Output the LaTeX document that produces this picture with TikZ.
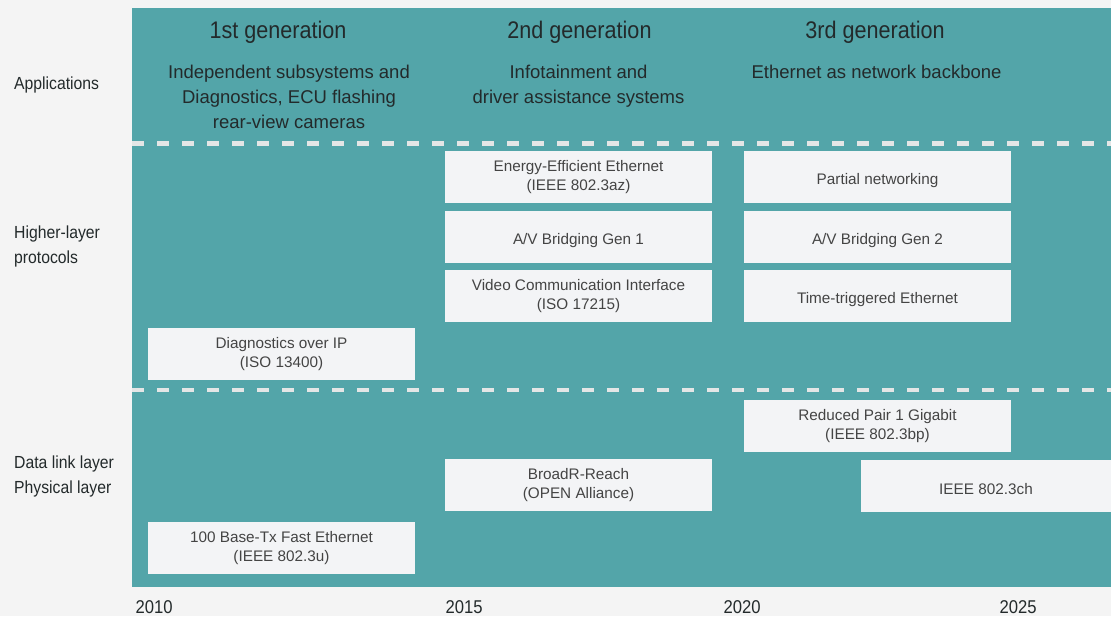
\documentclass[tikz,border=0pt]{standalone}
\usepackage{fontspec}
\setmainfont{Liberation Sans}
\newfontfamily\condfont[FakeStretch=0.9]{Liberation Sans}

\definecolor{pagebg}{HTML}{F4F4F4}
\definecolor{panel}{HTML}{53A5A9}
\definecolor{boxfill}{HTML}{F3F4F6}
\definecolor{boxtext}{HTML}{444444}
\definecolor{headtext}{HTML}{232A2B}
\definecolor{divider}{HTML}{E4E6E6}

\tikzset{
  stdbox/.style={fill=boxfill, minimum width=267pt, minimum height=52pt,
    inner sep=0pt, align=center, text=boxtext,
    font=\fontsize{15.3}{19.5}\selectfont,
    execute at begin node={\rule{0pt}{18pt}}},
  genhead/.style={inner sep=0pt, text=headtext,
    font=\condfont\fontsize{24}{28}\selectfont},
  apptext/.style={inner sep=0pt, align=center, text=headtext,
    font=\fontsize{18.5}{25}\selectfont},
  layerlabel/.style={inner sep=0pt, anchor=west, align=left, text=headtext,
    font=\condfont\fontsize{17.5}{25}\selectfont},
  yearlabel/.style={inner sep=0pt, anchor=west, text=headtext,
    font=\condfont\fontsize{18.5}{22}\selectfont},
  divline/.style={draw=divider, line width=4.7pt, dash pattern=on 12pt off 13pt},
}

\begin{document}
\begin{tikzpicture}[x=1pt,y=-1pt]
  \useasboundingbox (0,0) rectangle (1111,616);
  % page and timeline panel
  \fill[pagebg] (0,0) rectangle (1111,616);
  \fill[panel] (132,8) rectangle (1111,587);

  % layer separators
  \draw[divline] (132,143.5) -- (1111,143.5);
  \draw[divline] (132,390) -- (1111,390);

  % generation headings
  \node[genhead] (g1) at (278,32) {1st generation};
  \node[genhead] (g2) at (579.5,32) {2nd generation};
  \node[genhead] (g3) at (875,32) {3rd generation};

  % applications per generation
  \node[apptext] (a1) at (289,96.5) {Independent subsystems and\\Diagnostics, ECU flashing\\rear-view cameras};
  \node[apptext] (a2) at (578.5,86) {Infotainment and\\driver assistance systems};
  \node[apptext] (a3) at (876.5,71.5) {Ethernet as network backbone};

  % layer labels
  \node[layerlabel] (lapp) at (14,85) {Applications};
  \node[layerlabel] (lhl) at (14,246) {Higher-layer\\protocols};
  \node[layerlabel] (lphy) at (14,476.5) {Data link layer\\Physical layer};

  % higher-layer protocols
  \node[stdbox] (eee)  at (578.5,177) {Energy-Efficient Ethernet\\(IEEE 802.3az)};
  \node[stdbox] (avb1) at (578.5,237) {A/V Bridging Gen 1};
  \node[stdbox] (vci)  at (578.5,296) {Video Communication Interface\\(ISO 17215)};
  \node[stdbox] (pn)   at (877.5,177) {Partial networking};
  \node[stdbox] (avb2) at (877.5,237) {A/V Bridging Gen 2};
  \node[stdbox] (tte)  at (877.5,296) {Time-triggered Ethernet};
  \node[stdbox] (doip) at (281.5,354) {Diagnostics over IP\\(ISO 13400)};

  % data link / physical layer
  \node[stdbox] (fe)  at (281.5,548) {100 Base-Tx Fast Ethernet\\(IEEE 802.3u)};
  \node[stdbox] (brr) at (578.5,485) {BroadR-Reach\\(OPEN Alliance)};
  \node[stdbox] (rp)  at (877.5,426) {Reduced Pair 1 Gigabit\\(IEEE 802.3bp)};
  \node[stdbox, minimum width=250pt] (ch) at (986,486) {IEEE 802.3ch};

  % time axis
  \node[yearlabel] (y10) at (135.5,607) {2010};
  \node[yearlabel] (y15) at (445.5,607) {2015};
  \node[yearlabel] (y20) at (723.5,607) {2020};
  \node[yearlabel] (y25) at (999.5,607) {2025};
\end{tikzpicture}
\end{document}
